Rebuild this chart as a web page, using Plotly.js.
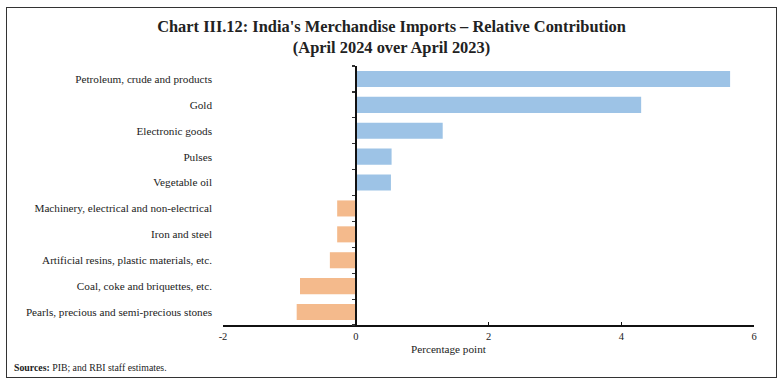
<!DOCTYPE html>
<html>
<head>
<meta charset="utf-8">
<script src="https://cdn.plot.ly/plotly-3.0.1.min.js"></script>
<style>
  html, body { margin: 0; padding: 0; background: #fff; }
  #wrap { position: relative; width: 783px; height: 385px; }
  #chart { width: 783px; height: 385px; }
  #frame { position: absolute; left: 6px; top: 7px; width: 771px; height: 371px;
           border: 1px solid #333; pointer-events: none; box-sizing: border-box; }
</style>
</head>
<body>
<div id="wrap"><div id="chart"></div><div id="frame"></div></div>
<script>
const categories = [
  "Petroleum, crude and products",
  "Gold",
  "Electronic goods",
  "Pulses",
  "Vegetable oil",
  "Machinery, electrical and non-electrical",
  "Iron and steel",
  "Artificial resins, plastic materials, etc.",
  "Coal, coke and briquettes, etc.",
  "Pearls, precious and semi-precious stones"
];
const values = [5.64, 4.30, 1.31, 0.54, 0.53, -0.28, -0.28, -0.39, -0.84, -0.89];
const xTicks = [-2, 0, 2, 4, 6];
const titleText = "Chart III.12: India's Merchandise Imports \u2013 Relative Contribution<br>(April 2024 over April 2023)";
const xTitle = "Percentage point";
const sourceText = "<b>Sources:</b> PIB; and RBI staff estimates.";

const posColor = "#9DC3E6";
const negColor = "#F4BA8C";
const colors = values.map(v => v >= 0 ? posColor : negColor);
const idx = categories.map((c, i) => i);
const boundaries = idx.map(i => i - 0.5).concat([categories.length - 0.5]);

const font = "Liberation Serif, DejaVu Serif, serif";

const bars = {
  type: "bar",
  orientation: "h",
  y: categories,
  x: values,
  marker: { color: colors, line: { width: 0 } },
  hoverinfo: "x+y"
};

// invisible helper trace so the zero-position axis (with boundary ticks) is drawn
const helper = {
  type: "scatter",
  mode: "markers",
  x: values,
  y: idx,
  yaxis: "y2",
  marker: { opacity: 0, size: 1 },
  hoverinfo: "skip",
  showlegend: false
};

const layout = {
  width: 783,
  height: 385,
  margin: { l: 223, r: 29, t: 66, b: 60 },
  paper_bgcolor: "#fff",
  plot_bgcolor: "#fff",
  showlegend: false,
  bargap: 0.38,
  font: { family: font, color: "#222", size: 10 },
  title: {
    text: titleText,
    x: 0.5, xref: "container",
    y: 0.917, yref: "container", yanchor: "top",
    font: { family: font, size: 16.4, color: "#222", weight: "bold" }
  },
  xaxis: {
    range: [-2, 6],
    domain: [0, 1],
    tickvals: xTicks,
    ticktext: xTicks.map(String),
    showgrid: false,
    zeroline: false,
    showline: true,
    linecolor: "#111",
    linewidth: 2,
    ticks: "inside",
    ticklen: 3,
    tickwidth: 1.5,
    tickcolor: "#111",
    tickfont: { family: font, size: 10.5, color: "#222" }
  },
  yaxis: {
    type: "category",
    categoryorder: "array",
    categoryarray: categories,
    range: [categories.length - 0.5, -0.5],
    showgrid: false,
    zeroline: false,
    showline: false,
    ticks: "",
    ticklabelstandoff: 10,
    tickfont: { family: font, size: 11.2, color: "#222" }
  },
  yaxis2: {
    overlaying: "y",
    anchor: "free",
    position: 0.25,
    range: [categories.length - 0.5, -0.5],
    tickvals: boundaries,
    showticklabels: false,
    showgrid: false,
    zeroline: false,
    showline: true,
    linecolor: "#111",
    linewidth: 2,
    ticks: "outside",
    ticklen: 3,
    tickwidth: 1.2,
    tickcolor: "#333"
  },
  annotations: [
    {
      text: xTitle,
      xref: "paper", yref: "paper",
      x: (449 - 223) / 531, y: 0, yshift: -24,
      xanchor: "center", yanchor: "middle",
      showarrow: false,
      font: { family: font, size: 11.2, color: "#222" }
    },
    {
      text: sourceText,
      xref: "paper", yref: "paper",
      x: (12 - 223) / 531, y: (325 - 367) / 259,
      xanchor: "left", yanchor: "middle",
      showarrow: false,
      font: { family: font, size: 9.8, color: "#222" }
    }
  ]
};

Plotly.newPlot("chart", [bars, helper], layout, { staticPlot: true, displayModeBar: false });
</script>
</body>
</html>
